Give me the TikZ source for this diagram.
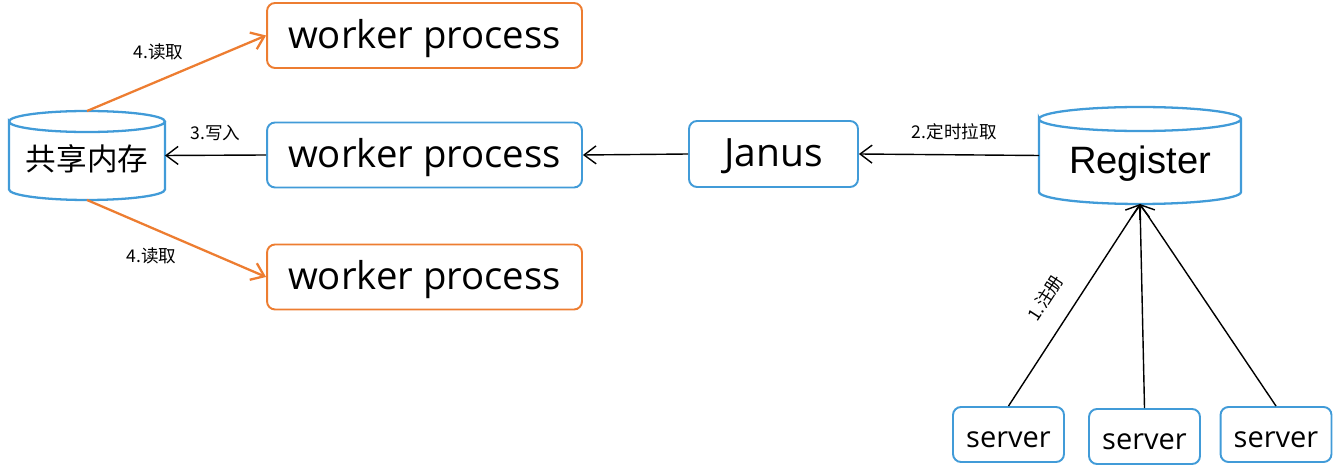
\documentclass[tikz,border=0pt]{standalone}
\usepackage{fontspec}
\setmainfont{Open Sans}
\newfontfamily\cjk{Noto Sans CJK SC}
\newfontfamily\arialfont{Liberation Sans}
\usetikzlibrary{arrows.meta,calc}
\definecolor{rimblue}{HTML}{419BD8}
\definecolor{readorange}{HTML}{ED7D31}
\tikzset{
  procbox/.style={draw=rimblue,rounded corners=0.16cm,line width=1.1pt,minimum width=6.3cm,
                  minimum height=1.3cm,text height=0.51cm,text depth=0pt,
                  font=\fontsize{21.8}{24}\selectfont},
  readbox/.style={procbox,draw=readorange},
  srvbox/.style={draw=rimblue,rounded corners=0.16cm,line width=1.1pt,minimum width=2.22cm,
                 minimum height=1.1cm,text height=0.51cm,text depth=0pt,
                 font=\fontsize{16.5}{18}\selectfont},
  drum/.style={inner sep=0pt,outer sep=0pt,text depth=0pt},
  drumrim/.style={draw=rimblue,line width=1.3pt},
  callarr/.style={-{Straight Barb[length=2.4mm,width=3.6mm]},line width=0.8pt},
  readarr/.style={callarr,draw=readorange,line width=1.3pt},
  steplabel/.style={font=\cjk\fontsize{10}{12}\selectfont,inner sep=2pt},
}
% name, centre, width, height, rim radius, text
\newcommand{\drum}[6]{%
  \node[drum,minimum width=#3,minimum height=#4] (#1) at #2 {#6};
  \draw[drumrim] let \p1=(#1.north west), \p2=(#1.south east), \n1={(\x2-\x1)/2} in
    (\x1,\y1-#5) arc[start angle=180,end angle=-180,x radius=\n1,y radius=#5]
    -- (\x1,\y2+#5) arc[start angle=180,end angle=360,x radius=\n1,y radius=#5]
    -- (\x2,\y1-#5);
}

\begin{document}
\begin{tikzpicture}[x=0.02cm,y=-0.02cm]
  \useasboundingbox (0,0) rectangle (1337,472);

  % ---------------------------------------------------------------- stores
  \drum{mem}{(87,155.5)}{3.12cm}{1.78cm}{0.21cm}{\cjk\fontsize{17.4}{20}\selectfont\rule{0pt}{0.62cm}共享内存}
  \drum{reg}{(1140,155.5)}{4.04cm}{1.94cm}{0.24cm}{\arialfont\fontsize{21.7}{24}\selectfont\rule{0pt}{0.74cm}Register}

  % ---------------------------------------------------------------- workers
  \node[readbox] (w1) at (424.5,35.5) {worker process};
  \node[procbox] (w2) at (424.5,155) {worker process};
  \node[readbox] (w3) at (424.5,277) {worker process};
  \node[procbox,minimum width=3.38cm,minimum height=1.32cm,font=\fontsize{22.2}{24}\selectfont]
       (jan) at (773.5,154) {Janus};

  % ---------------------------------------------------------------- servers
  \node[srvbox] (s1) at (1008.5,434.5) {server};
  \node[srvbox] (s2) at (1144.5,436.5) {server};
  \node[srvbox] (s3) at (1276,434.5) {server};

  % ---------------------------------------------------------------- flow
  \draw[callarr] (s1.north) -- node[steplabel,pos=0.46,sloped,above=9pt] {1.注册} (reg.south);
  \draw[callarr] (s2.north) -- (reg.south);
  \draw[callarr] (s3.north) -- (reg.south);
  \draw[callarr] (reg.west) -- node[steplabel,midway,above=6pt,xshift=3pt] {2.定时拉取} (jan.east);
  \draw[callarr] (jan.west) -- (w2.east);
  \draw[callarr] (w2.west) -- node[steplabel,midway,above=6pt] {3.写入} (mem.east);
  \draw[readarr] (mem.north) -- node[steplabel,pos=0.4,above=9pt] {4.读取} (w1.west);
  \draw[readarr] (mem.south) -- node[steplabel,pos=0.36,below=9pt] {4.读取} (w3.west);
\end{tikzpicture}
\end{document}
